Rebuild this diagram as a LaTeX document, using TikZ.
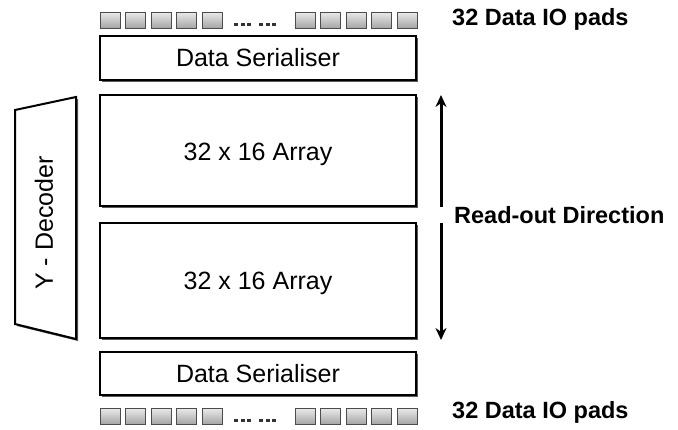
\documentclass[tikz,border=0pt]{standalone}
\usepackage{fontspec}
\setmainfont{Liberation Sans}
\usetikzlibrary{shadows,arrows.meta}
\begin{document}
\begin{tikzpicture}[x=1pt,y=-1pt,
  blk/.style={draw=black,line width=2pt,fill=white,
    drop shadow={shadow xshift=2pt,shadow yshift=-2pt,fill=black!65,opacity=1}},
  pad/.style={draw=black!70,line width=0.9pt,top color=black!8,bottom color=black!35},
  lbl/.style={font=\fontsize{25}{28}\selectfont},
  blbl/.style={font=\bfseries\fontsize{23.5}{28}\selectfont},
  dir/.style={line width=3pt,-{Stealth[length=12pt,width=11pt]}}]
\useasboundingbox (0,0) rectangle (678,429);
% pads
\foreach \x [count=\i] in {100,125.5,151,176.5,202,295,320.5,346,371.5,397}{
  \path[pad] (\x,12) rectangle ++(20,16);
  \path[pad] (\x,408) rectangle ++(20,16);
}
\foreach \x in {234,240.5,247,259,265.5,272}{
  \fill[black!80] (\x,22.5) rectangle ++(4,3);
  \fill[black!80] (\x,418.5) rectangle ++(4,3);
}
% boxes
\draw[blk] (100,36) rectangle (416,80);
\node[lbl] (sertop) at (258,58) {Data Serialiser};
\draw[blk] (100,95) rectangle (416,206);
\node[lbl] (arrtop) at (258,154) {32 x 16 Array};
\draw[blk] (100,223) rectangle (416,338);
\node[lbl] (arrbot) at (258,283) {32 x 16 Array};
\draw[blk] (100,352) rectangle (416,395);
\node[lbl] (serbot) at (258,374) {Data Serialiser};
% decoder
\draw[blk,line join=miter] (15,110) -- (76,97) -- (76,339) -- (15,324) -- cycle;
\node[lbl,rotate=90] (dec) at (44,223) {Y - Decoder};
% labels
\node[blbl,anchor=west,inner sep=0pt] (padtop) at (452,19) {32 Data IO pads};
\node[blbl,anchor=west,inner sep=0pt] (padbot) at (452,412) {32 Data IO pads};
\node[blbl,anchor=west,inner sep=0pt] (rd) at (454,215) {Read-out Direction};
% arrows
\coordinate (au0) at (441,207);
\coordinate (au1) at (441,95);
\coordinate (ad0) at (441,223);
\coordinate (ad1) at (441,340);
\draw[dir] (au0) -- (au1);
\draw[dir] (ad0) -- (ad1);
\end{tikzpicture}
\end{document}
